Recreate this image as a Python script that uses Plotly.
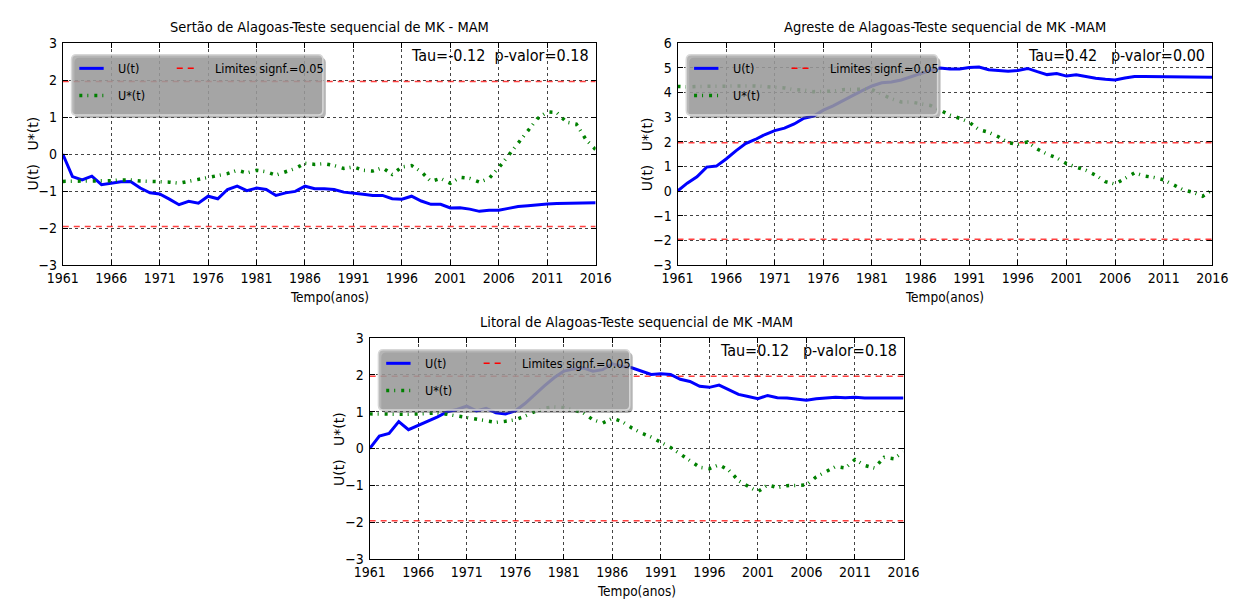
import plotly.graph_objects as go

years = list(range(1961, 2017))

sertao_u = [0.00, -0.61, -0.70, -0.60, -0.83, -0.79, -0.75, -0.74, -0.92, -1.05,
            -1.08, -1.22, -1.37, -1.28, -1.33, -1.14, -1.21, -0.96, -0.87, -0.99,
            -0.92, -0.96, -1.12, -1.05, -1.01, -0.87, -0.94, -0.94, -0.96, -1.03,
            -1.05, -1.09, -1.12, -1.12, -1.21, -1.22, -1.14, -1.27, -1.36, -1.36,
            -1.46, -1.45, -1.49, -1.55, -1.52, -1.52, -1.47, -1.42, -1.40, -1.37,
            -1.35, -1.34, -1.34, -1.33, -1.32, -1.32]
sertao_us = [-0.74, -0.74, -0.72, -0.72, -0.72, -0.72, -0.70, -0.70, -0.73, -0.74,
             -0.74, -0.76, -0.79, -0.74, -0.70, -0.63, -0.59, -0.53, -0.44, -0.51,
             -0.44, -0.48, -0.57, -0.48, -0.39, -0.25, -0.28, -0.26, -0.31, -0.39,
             -0.35, -0.44, -0.46, -0.37, -0.55, -0.35, -0.31, -0.48, -0.74, -0.66,
             -0.79, -0.63, -0.66, -0.76, -0.66, -0.37, -0.04, 0.31, 0.61, 0.96,
             1.14, 1.12, 0.86, 0.81, 0.39, 0.12]

agreste_u = [0.00, 0.32, 0.58, 0.97, 1.01, 1.30, 1.63, 1.92, 2.09, 2.29,
             2.45, 2.55, 2.72, 2.95, 3.04, 3.28, 3.45, 3.67, 3.87, 4.07,
             4.26, 4.39, 4.42, 4.50, 4.63, 4.79, 4.89, 4.99, 4.95, 4.95,
             5.01, 5.03, 4.92, 4.89, 4.86, 4.89, 4.97, 4.84, 4.72, 4.76,
             4.66, 4.71, 4.63, 4.57, 4.53, 4.50, 4.58, 4.64, 4.64, 4.64,
             4.64, 4.64, 4.63, 4.61, 4.61, 4.61]
agreste_us = [4.24, 4.22, 4.24, 4.25, 4.25, 4.26, 4.26, 4.26, 4.26, 4.24,
              4.22, 4.18, 4.11, 4.09, 4.03, 4.05, 4.05, 4.11, 4.13, 4.13,
              4.11, 3.93, 3.74, 3.61, 3.61, 3.54, 3.47, 3.28, 3.08, 2.95,
              2.79, 2.49, 2.38, 2.20, 1.96, 1.89, 1.99, 1.70, 1.50, 1.34,
              1.11, 0.97, 0.84, 0.64, 0.38, 0.28, 0.51, 0.74, 0.61, 0.55,
              0.45, 0.25, 0.05, -0.05, -0.21, 0.05]

litoral_u = [0.00, 0.34, 0.41, 0.73, 0.51, 0.62, 0.75, 0.86, 1.00, 1.06,
             1.15, 1.02, 1.09, 0.97, 0.94, 1.02, 1.22, 1.47, 1.70, 1.92,
             2.10, 2.16, 2.19, 2.10, 2.14, 2.30, 2.23, 2.19, 2.10, 2.01,
             2.03, 2.01, 1.88, 1.82, 1.69, 1.66, 1.72, 1.59, 1.47, 1.41,
             1.35, 1.44, 1.38, 1.37, 1.35, 1.31, 1.35, 1.38, 1.39, 1.38,
             1.39, 1.37, 1.37, 1.38, 1.38, 1.37]
litoral_us = [0.94, 0.93, 0.93, 0.93, 0.93, 0.93, 0.95, 0.97, 0.93, 0.89,
              0.84, 0.80, 0.76, 0.71, 0.74, 0.78, 0.88, 1.00, 1.09, 1.13,
              1.11, 1.04, 0.97, 0.78, 0.69, 0.82, 0.73, 0.56, 0.42, 0.31,
              0.16, 0.03, -0.15, -0.33, -0.51, -0.55, -0.44, -0.59, -0.87, -1.03,
              -1.17, -0.99, -1.06, -1.01, -0.99, -0.99, -0.77, -0.64, -0.49, -0.53,
              -0.30, -0.46, -0.53, -0.24, -0.28, -0.09]

limite = 1.96
x_ticks = list(range(1961, 2017, 5))

titles = ["Sertão de Alagoas-Teste sequencial de MK - MAM",
          "Agreste de Alagoas-Teste sequencial de MK -MAM",
          "Litoral de Alagoas-Teste sequencial de MK -MAM"]
stats = ["Tau=-0.12  p-valor=0.18",
         "Tau=0.42   p-valor=0.00",
         "Tau=0.12   p-valor=0.18"]
u_series = [sertao_u, agreste_u, litoral_u]
us_series = [sertao_us, agreste_us, litoral_us]
y_ranges = [[-3, 3], [-3, 6], [-3, 3]]

W, H = 1242, 603
# pixel boxes (left, top, right, bottom)
boxes = [(48, 36, 595, 264), (679, 36, 1228, 264), (363, 339, 911, 566)]

FONT = "Liberation Sans Narrow, DejaVu Sans Condensed, Liberation Sans, sans-serif"
BLUE = "#0000ff"
GREEN = "#008000"
RED = "rgba(255,0,0,0.75)"
GDASH = "3px,5px,1px,6px"
RDASH = "6px,5px"


def px(x):
    return x / W


def py(y):
    return 1 - y / H


def rrect(x0, y0, x1, y1, r):
    pts = [("M", [(x0 + r, y0)]), ("L", [(x1 - r, y0)]), ("Q", [(x1, y0), (x1, y0 + r)]),
           ("L", [(x1, y1 - r)]), ("Q", [(x1, y1), (x1 - r, y1)]), ("L", [(x0 + r, y1)]),
           ("Q", [(x0, y1), (x0, y1 - r)]), ("L", [(x0, y0 + r)]), ("Q", [(x0, y0), (x0 + r, y0)])]
    s = ""
    for cmd, ps in pts:
        s += cmd + " " + " ".join(f"{px(a):.5f},{py(b):.5f}" for a, b in ps) + " "
    return s + "Z"


fig = go.Figure()
shapes = []
annotations = []

for i in range(3):
    n = "" if i == 0 else str(i + 1)
    xa, ya = "x" + n, "y" + n
    l, t, r, b = boxes[i]

    for sgn in (1, -1):
        fig.add_trace(go.Scatter(x=[years[0], years[-1]], y=[sgn * limite, sgn * limite],
                                 mode="lines", line=dict(color=RED, width=1.5, dash=RDASH),
                                 xaxis=xa, yaxis=ya, showlegend=False, hoverinfo="skip"))
    fig.add_trace(go.Scatter(x=years, y=u_series[i], mode="lines",
                             line=dict(color=BLUE, width=3), xaxis=xa, yaxis=ya,
                             showlegend=False, name="U(t)"))
    fig.add_trace(go.Scatter(x=years, y=us_series[i], mode="lines",
                             line=dict(color=GREEN, width=3.5, dash=GDASH), xaxis=xa, yaxis=ya,
                             showlegend=False, name="U*(t)"))

    axis_common = dict(showline=True, linecolor="black", linewidth=1, mirror="allticks",
                       ticks="inside", ticklen=5, tickcolor="black",
                       showgrid=True, gridcolor="#444", griddash="dot", gridwidth=1,
                       zeroline=False, tickfont=dict(family=FONT, size=14, color="black"))
    fig.update_layout(**{
        "xaxis" + n: dict(domain=[px(l), px(r)], anchor=ya, range=[1961, 2016],
                          tickvals=x_ticks, ticktext=[str(v) for v in x_ticks],
                          ticklabelstandoff=0, **axis_common),
        "yaxis" + n: dict(domain=[py(b), py(t)], anchor=xa, range=y_ranges[i], dtick=1,
                          ticklabelstandoff=2, **axis_common),
    })

    cx = (l + r) / 2
    annotations.append(dict(x=px(cx), y=py(t - 6), xref="paper", yref="paper",
                            text=titles[i], showarrow=False, xanchor="center", yanchor="bottom",
                            font=dict(family=FONT, size=14.5, color="black")))
    annotations.append(dict(x=px(r - 5), y=py(t + 1), xref="paper", yref="paper",
                            text=stats[i], showarrow=False, xanchor="right", yanchor="top",
                            font=dict(family=FONT, size=16, color="black")))
    annotations.append(dict(x=px(cx), y=py(b + 33), xref="paper", yref="paper",
                            text="Tempo(anos)", showarrow=False, xanchor="center", yanchor="middle",
                            font=dict(family=FONT, size=13.5, color="black")))
    annotations.append(dict(x=px(l - 31), y=py((t + b) / 2), xref="paper", yref="paper",
                            text="U(t)   U*(t)", showarrow=False, textangle=-90,
                            xanchor="center", yanchor="middle",
                            font=dict(family="DejaVu Sans, sans-serif", size=14, color="black")))

    # legend box
    bx0, by0, bx1, by1 = l + 9, t + 12, l + 267, t + 74
    shapes.append(dict(type="path", path=rrect(bx0 + 3, by0 + 3, bx1 + 3, by1 + 3, 5),
                       xref="paper", yref="paper", fillcolor="rgba(90,90,90,0.45)",
                       line=dict(width=0), layer="above"))
    shapes.append(dict(type="path", path=rrect(bx0, by0, bx1, by1, 5),
                       xref="paper", yref="paper", fillcolor="rgba(160,160,160,0.78)",
                       line=dict(color="rgba(215,215,215,1)", width=1.5), layer="above"))
    r1, r2 = t + 26, t + 54
    shapes.append(dict(type="line", xref="paper", yref="paper", x0=px(l + 17), x1=px(l + 42),
                       y0=py(r1), y1=py(r1), line=dict(color=BLUE, width=3), layer="above"))
    shapes.append(dict(type="line", xref="paper", yref="paper", x0=px(l + 117), x1=px(l + 137),
                       y0=py(r1), y1=py(r1), line=dict(color="red", width=1.5, dash=RDASH),
                       layer="above"))
    shapes.append(dict(type="line", xref="paper", yref="paper", x0=px(l + 17), x1=px(l + 43),
                       y0=py(r2), y1=py(r2), line=dict(color=GREEN, width=3.5, dash=GDASH),
                       layer="above"))
    for txt, xx, yy in [("U(t)", l + 55, r1), ("Limites signf.=0.05", l + 154, r1),
                        ("U*(t)", l + 55, r2)]:
        annotations.append(dict(x=px(xx), y=py(yy), xref="paper", yref="paper", text=txt,
                                showarrow=False, xanchor="left", yanchor="middle",
                                font=dict(family=FONT, size=12.5, color="black")))

fig.update_layout(width=W, height=H, margin=dict(l=0, r=0, t=0, b=0),
                  paper_bgcolor="white", plot_bgcolor="white", showlegend=False,
                  shapes=shapes, annotations=annotations,
                  font=dict(family=FONT, color="black"))

fig.write_html("out.html")
